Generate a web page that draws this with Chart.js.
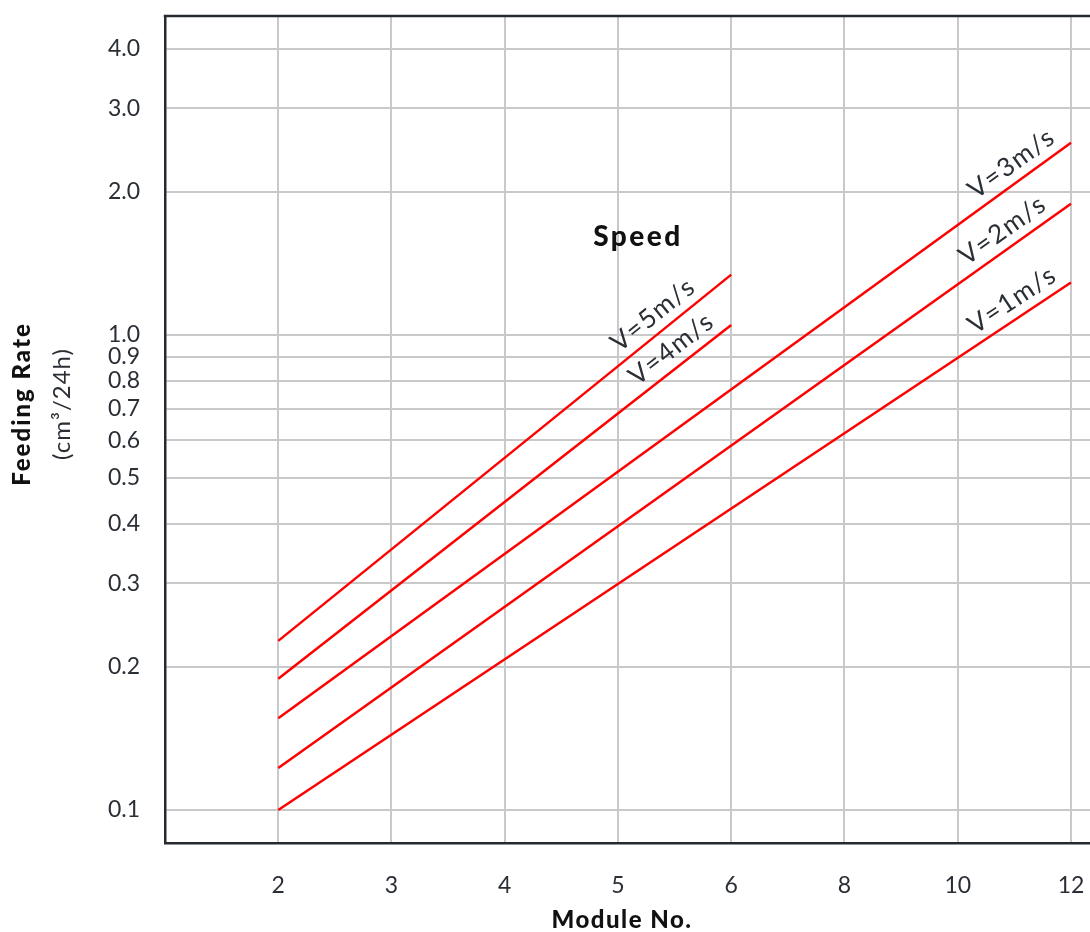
<!DOCTYPE html>
<html>
<head>
<meta charset="utf-8">
<script src="https://cdn.jsdelivr.net/npm/chart.js@4.4.1/dist/chart.umd.min.js"></script>
<style>
  html, body { margin: 0; padding: 0; background: #fff; }
  #wrap { width: 1090px; height: 932px; position: relative; }
</style>
</head>
<body>
<div id="wrap"><canvas id="feedChart"></canvas></div>
<script>
// ----------------------------
// Data
// ----------------------------
const moduleLabels = ['2', '3', '4', '5', '6', '8', '10', '12'];
const speedNames = ['V=1m/s', 'V=2m/s', 'V=3m/s', 'V=4m/s', 'V=5m/s'];
const startModule = ['2', '2', '2', '2', '2'];
const endModule = ['12', '12', '12', '6', '6'];
const rateAtStart = [0.100, 0.1225, 0.156, 0.189, 0.227];
const rateAtEnd = [1.29, 1.89, 2.54, 1.05, 1.34];
const yTickValues = [0.1, 0.2, 0.3, 0.4, 0.5, 0.6, 0.7, 0.8, 0.9, 1.0, 2.0, 3.0, 4.0];

// label placement along each line (module index)
const labelAt = [6.57, 6.49, 6.57, 3.57, 3.41];
const LABEL_GAP = 18;

const FONT = 'Lato';
const INK = '#2a2f36';
const AXIS_INK = '#252a31';
const GRID = '#c9c9c9';
const RED = '#ff0000';

const idx = (m) => moduleLabels.indexOf(m);

const datasets = speedNames.map((name, i) => ({
  label: name,
  data: [
    { x: idx(startModule[i]), y: rateAtStart[i] },
    { x: idx(endModule[i]), y: rateAtEnd[i] }
  ],
  borderColor: RED,
  borderWidth: 2.5,
  pointRadius: 0,
  fill: false,
  tension: 0
}));

// annotations: titles, "Speed" heading, line labels, top frame
const annotate = {
  id: 'annotate',
  afterDraw(chart) {
    const { ctx, chartArea, scales } = chart;
    const xs = scales.x, ys = scales.y;
    ctx.save();

    // top frame line
    ctx.strokeStyle = AXIS_INK;
    ctx.lineWidth = 2.5;
    ctx.beginPath();
    ctx.moveTo(chartArea.left - 1.25, chartArea.top);
    ctx.lineTo(chartArea.right + 2, chartArea.top);
    ctx.stroke();

    // line labels
    ctx.fillStyle = INK;
    ctx.font = `26px ${FONT}`;
    ctx.letterSpacing = '1.5px';
    ctx.textAlign = 'center';
    ctx.textBaseline = 'middle';
    datasets.forEach((ds, i) => {
      const p0 = ds.data[0], p1 = ds.data[1];
      const x0 = xs.getPixelForValue(p0.x), y0 = ys.getPixelForValue(p0.y);
      const x1 = xs.getPixelForValue(p1.x), y1 = ys.getPixelForValue(p1.y);
      const ang = Math.atan2(y1 - y0, x1 - x0);
      const px = xs.getPixelForValue(labelAt[i]);
      const py = y0 + (px - x0) * (y1 - y0) / (x1 - x0);
      ctx.save();
      ctx.translate(px, py);
      ctx.rotate(ang);
      ctx.fillText(ds.label, 0, -LABEL_GAP);
      ctx.restore();
    });

    // "Speed" heading
    ctx.fillStyle = '#111';
    ctx.font = `900 28px ${FONT}`;
    ctx.letterSpacing = '2.5px';
    ctx.fillText('Speed', 638, 237);

    // x title
    ctx.font = `900 24px ${FONT}`;
    ctx.letterSpacing = '1.5px';
    ctx.fillText('Module No.', 622, 920);

    // y title (two lines, rotated)
    ctx.save();
    ctx.translate(22, 404);
    ctx.rotate(-Math.PI / 2);
    ctx.font = `900 24px ${FONT}`;
    ctx.letterSpacing = '2px';
    ctx.fillText('Feeding Rate', 0, 0);
    ctx.restore();

    ctx.save();
    ctx.translate(62, 404);
    ctx.rotate(-Math.PI / 2);
    ctx.fillStyle = INK;
    ctx.font = `24px ${FONT}`;
    ctx.letterSpacing = '1px';
    ctx.fillText('(cm³/24h)', 0, 0);
    ctx.restore();

    ctx.restore();
  }
};

new Chart(document.getElementById('feedChart').getContext('2d'), {
  type: 'line',
  data: { datasets },
  plugins: [annotate],
  options: {
    responsive: true,
    maintainAspectRatio: false,
    animation: false,
    layout: { padding: { top: 16, right: 0, left: 0, bottom: 0 } },
    plugins: { legend: { display: false }, tooltip: { enabled: false } },
    scales: {
      x: {
        type: 'linear',
        min: -1,
        max: 7.168,
        afterBuildTicks: (scale) => {
          scale.ticks = [-1, 0, 1, 2, 3, 4, 5, 6, 7].map(v => ({ value: v }));
        },
        afterFit: (scale) => {
          scale.height = 89;
          scale.paddingLeft = 0;
          scale.paddingRight = 0;
        },
        grid: { color: GRID, lineWidth: 2, drawTicks: false },
        border: { color: AXIS_INK, width: 2.5 },
        ticks: {
          padding: 29,
          color: INK,
          font: { family: FONT, size: 23 },
          maxRotation: 0,
          autoSkip: false,
          callback: (v) => (v >= 0 && v < moduleLabels.length ? moduleLabels[v] : '')
        }
      },
      y: {
        type: 'logarithmic',
        min: 0.0852,
        max: 4.695,
        afterBuildTicks: (scale) => {
          scale.ticks = yTickValues.map(v => ({ value: v }));
        },
        afterFit: (scale) => {
          scale.width = 165;
          scale.paddingTop = 0;
          scale.paddingBottom = 0;
        },
        grid: { color: GRID, lineWidth: 2, drawTicks: false },
        border: { color: AXIS_INK, width: 2.5 },
        ticks: {
          padding: 25,
          color: INK,
          font: { family: FONT, size: 23 },
          autoSkip: false,
          callback: (v) => Number(v).toFixed(1)
        }
      }
    }
  }
});
</script>
</body>
</html>
